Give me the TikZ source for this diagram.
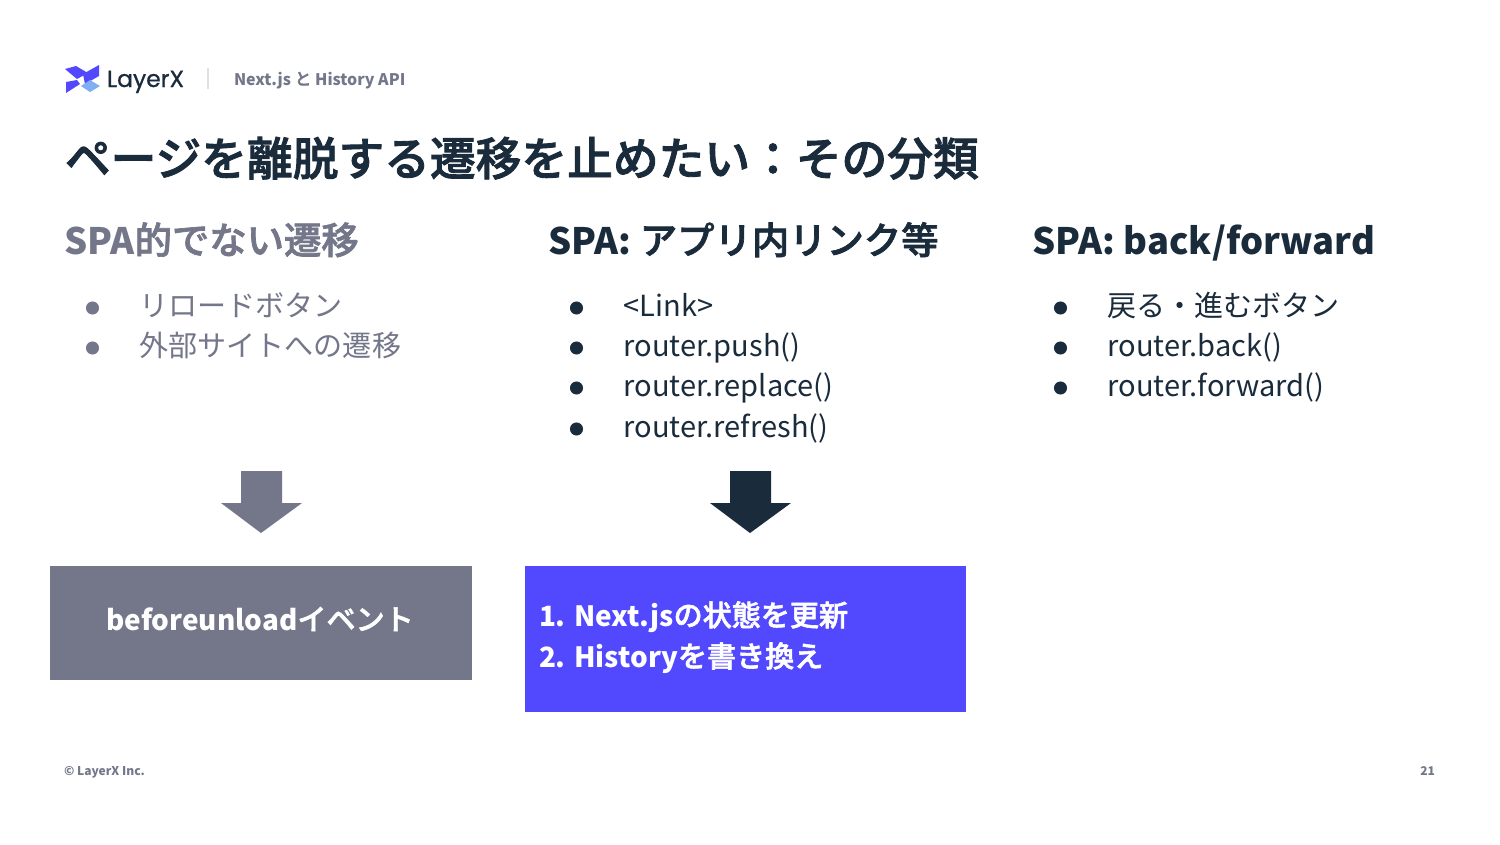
\documentclass[tikz,border=0pt]{standalone}
\usepackage{fontspec}
\setmainfont{Noto Sans CJK JP}
\newfontfamily\med[FakeBold=1.9]{Noto Sans CJK JP Medium}
\newfontfamily\latb[Scale=0.96]{Noto Sans CJK JP}
\newfontfamily\lath[Scale=0.975]{Noto Sans CJK JP}
\newcommand{\lat}[1]{{\latb\bfseries #1}}
\newcommand{\lah}[1]{{\lath\bfseries #1}}
\newfontfamily\pop[FakeBold=0.8]{Poppins}
\definecolor{ink}{HTML}{1A2B3C}
\definecolor{slate}{HTML}{737789}
\definecolor{violet}{HTML}{5249FF}
\definecolor{sky}{HTML}{7FAEF5}
\tikzset{
 txt/.style={inner sep=0pt,outer sep=0pt,anchor=base west,text=#1},
 hd/.style={txt=#1,font=\fontsize{28}{30}\selectfont\med},
 bl/.style={txt=#1,font=\fontsize{21.8}{24}\selectfont},
 dot/.style={circle,fill=#1,minimum size=9.8pt,inner sep=0pt,draw=none},
 foot/.style={txt=slate,font=\fontsize{9.4}{12}\selectfont\med},
 boxt/.style={txt=white,font=\fontsize{21.8}{28}\selectfont\med},
}
\begin{document}
\begin{tikzpicture}[x=0.75pt,y=-0.75pt]
\useasboundingbox (0,0) rectangle (1500,844);
\fill[white] (0,0) rectangle (1500,844);
% logo
\fill[violet] (65,69) -- (76,66) -- (88,73) -- (77,79) -- cycle;
\fill[violet] (83,74) -- (99,65) -- (99,76) -- (85,84) -- cycle;
\fill[violet] (66,82) -- (77,80) -- (80,84) -- (66,93) -- cycle;
\fill[sky] (81,86) -- (90,80) -- (100,86) -- (90,92) -- cycle;
\node[txt=ink,font=\fontsize{17.6}{20}\selectfont\pop] (brand) at (107,87) {LayerX};
\draw[line width=0.9pt,black!12] (208,68) -- (208,89);
\node[txt=slate,font=\fontsize{12.5}{16}\selectfont\med] (crumb) at (234,85) {\lat{Next.js} と \lat{History API}};
% title
\node[txt=ink,font=\fontsize{34.3}{36}\selectfont\med] (title) at (65,175.5) {ページを離脱する遷移を止めたい：その分類};
% headings
\node[hd=slate] (h1) at (64.5,254) {\lah{SPA}的でない遷移};
\node[hd=ink] (h2) at (548.5,254) {\lah{SPA:} アプリ内リンク等};
\node[hd=ink] (h3) at (1032.5,254) {\lah{SPA: back/forward}};
% bullets col 1
\foreach \nm/\yy/\t in {a/316.5/リロードボタン,b/356.5/外部サイトへの遷移}{
  \node[dot=slate] (d1\nm) at (92.5,\yy-8.5) {};
  \node[bl=slate] (t1\nm) at (139.5,\yy) {\t};
}
% bullets col 2
\foreach \nm/\yy/\t in {a/316.5/{<Link>},b/356.5/{router.push()},c/396.5/{router.replace()},d/437.5/{router.refresh()}}{
  \node[dot=ink] (d2\nm) at (576.5,\yy-8.5) {};
  \node[bl=ink] (t2\nm) at (623.5,\yy) {\t};
}
% bullets col 3
\foreach \nm/\yy/\t in {a/316.5/戻る・進むボタン,b/356.5/{router.back()},c/396.5/{router.forward()}}{
  \node[dot=ink] (d3\nm) at (1060.5,\yy-8.5) {};
  \node[bl=ink] (t3\nm) at (1107.5,\yy) {\t};
}
% arrows
\fill[slate] (241,471) -- (282,471) -- (282,503) -- (302,503) -- (261,533) -- (221,503) -- (241,503) -- cycle;
\fill[ink] (730,471) -- (771,471) -- (771,503) -- (791,503) -- (750,533) -- (710,503) -- (730,503) -- cycle;
% boxes
\fill[slate] (50,566) rectangle (472,680);
\node[boxt,anchor=base] (bx1) at (260,630) {\lat{beforeunload}イベント};
\fill[violet] (525,566) rectangle (966,712);
\node[boxt] (bx2a) at (539,626) {\lat{1. Next.js}の状態を更新};
\node[boxt] (bx2b) at (539,667) {\lat{2. History}を書き換え};
% footer
\node[foot] (c) at (64,775) {\lat{© LayerX Inc.}};
\node[foot,anchor=base east] (p) at (1435,775) {\lat{21}};
\end{tikzpicture}
\end{document}
